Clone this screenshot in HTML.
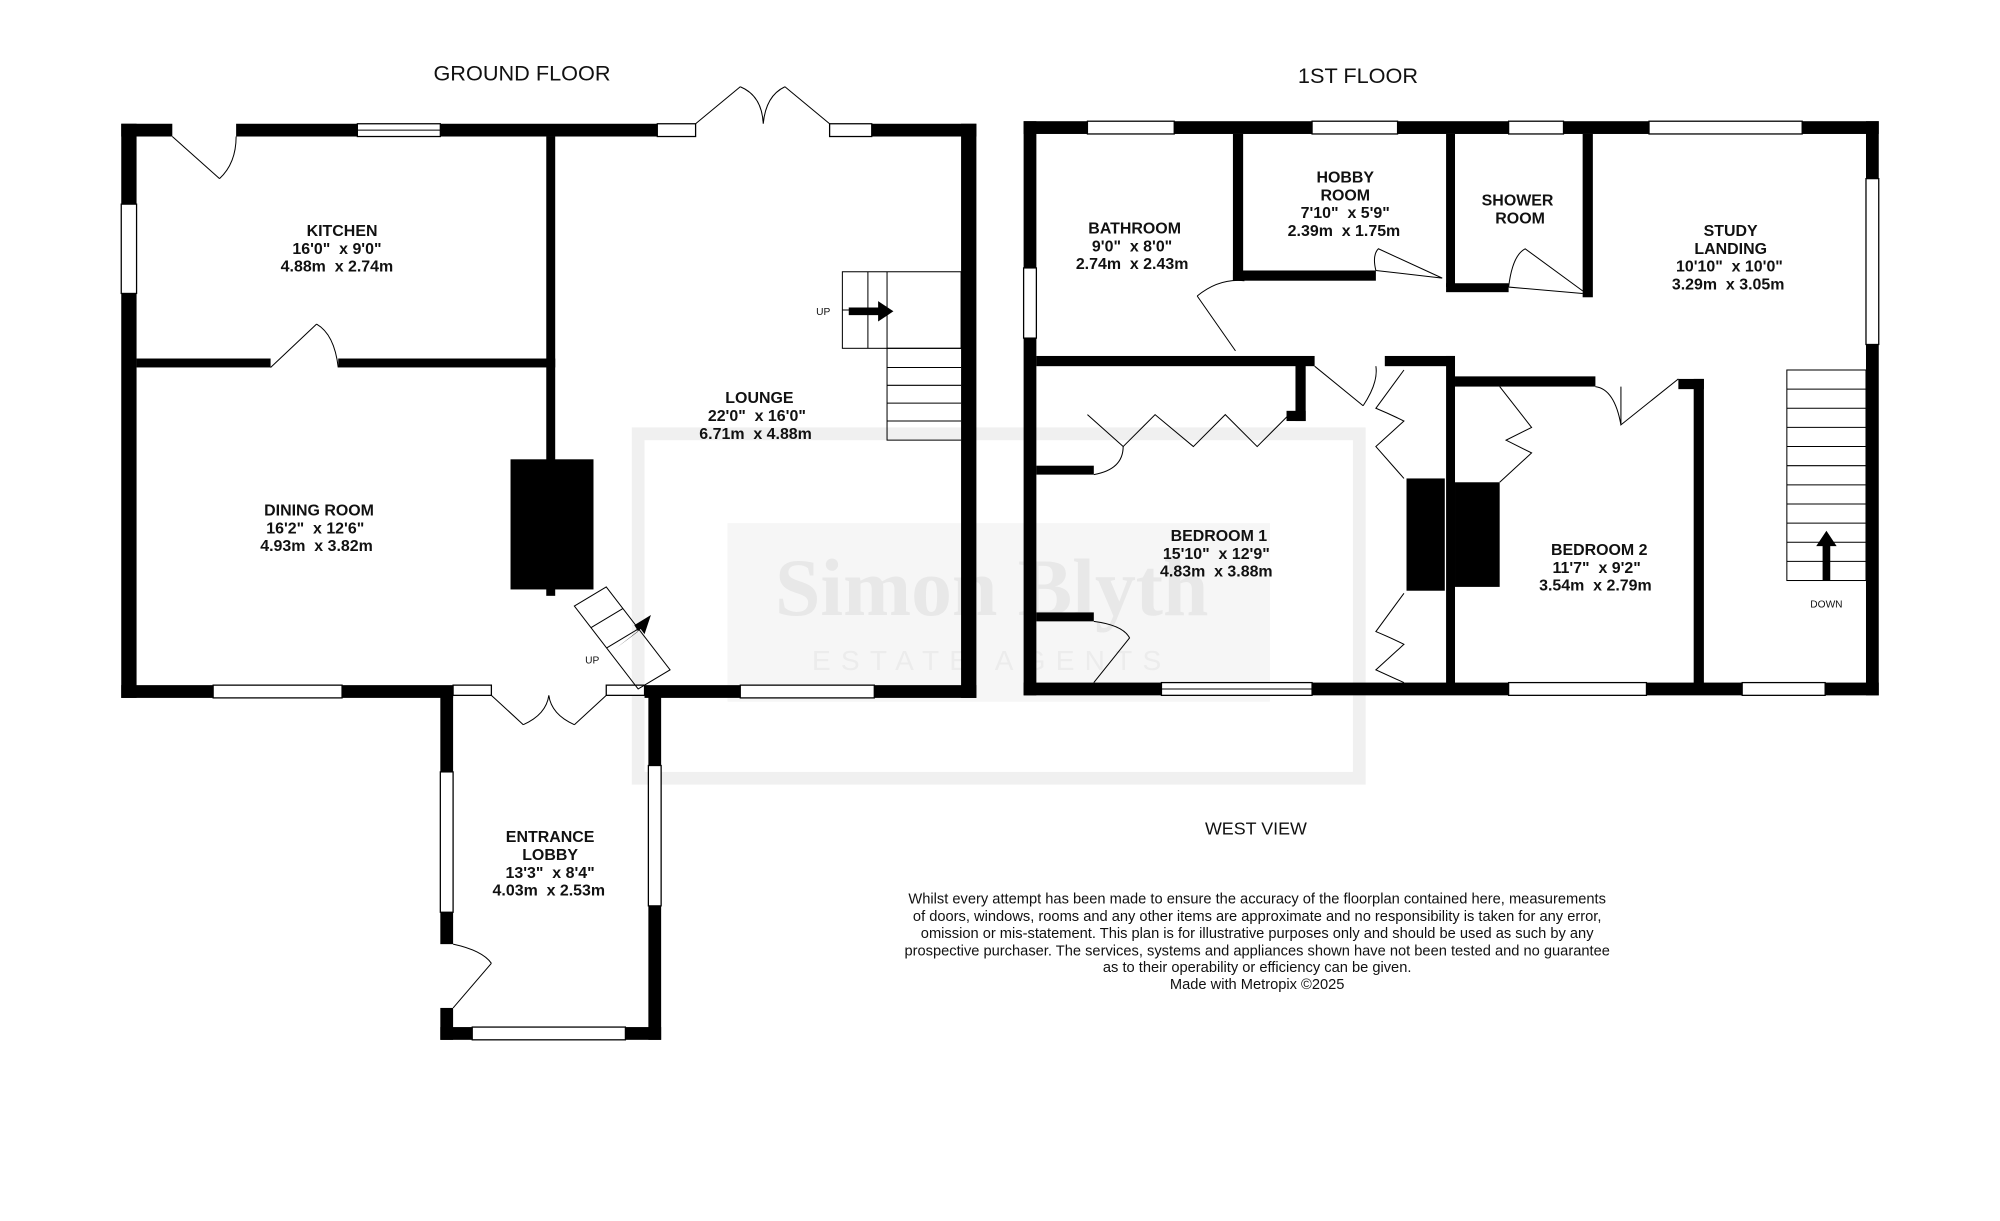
<!DOCTYPE html>
<html><head><meta charset="utf-8"><style>
html,body{margin:0;padding:0;background:#fff;width:2000px;height:1221px;overflow:hidden}
svg{display:block}
text{font-family:"Liberation Sans",Arial,sans-serif;fill:#111;white-space:pre}
.l{font-weight:bold;font-size:12.5px;text-anchor:middle}
.h{font-size:17px;text-anchor:middle}
.s{font-size:8px;text-anchor:middle}
.d{font-size:11.5px;text-anchor:middle}
</style></head><body>
<svg width="2000" height="1221" viewBox="0 0 1567 957" preserveAspectRatio="none" xmlns="http://www.w3.org/2000/svg">
<rect width="1567" height="957" fill="#fff"/>
<g fill="none" stroke="#f0f0f0" stroke-width="10">
<rect x="500" y="340" width="565" height="270"/>
</g>
<rect x="570" y="410" width="425" height="140" fill="#f6f6f6"/>
<text x="777" y="482" style="font-family:'Liberation Serif',serif;font-size:64px;font-weight:bold;fill:#e8e8e8;text-anchor:middle">Simon Blyth</text>
<text x="777" y="525" style="font-size:22px;fill:#ececec;text-anchor:middle;letter-spacing:8px">ESTATE AGENTS</text>

<text class="h" x="409" y="63">GROUND FLOOR</text>
<text class="h" x="1064" y="65">1ST FLOOR</text>

<g fill="#000">
<rect x="95" y="97" width="40" height="10"/><rect x="185" y="97" width="95" height="10"/>
<rect x="345" y="97" width="170" height="10"/><rect x="683" y="97" width="82" height="10"/>
<rect x="95" y="97" width="12" height="63"/><rect x="95" y="230" width="12" height="317"/>
<rect x="753" y="97" width="12" height="450"/>
<rect x="95" y="537" width="72" height="10"/><rect x="268" y="537" width="87" height="10"/>
<rect x="505" y="537" width="75" height="10"/><rect x="685" y="537" width="80" height="10"/>
<rect x="428" y="107" width="7" height="360"/>
<rect x="107" y="281" width="105" height="7"/><rect x="265" y="281" width="170" height="7"/>
<rect x="400" y="360" width="65" height="102"/>
<rect x="345" y="540" width="10" height="65"/><rect x="345" y="715" width="10" height="25"/><rect x="345" y="790" width="10" height="25"/>
<rect x="508" y="540" width="10" height="60"/><rect x="508" y="710" width="10" height="105"/>
<rect x="345" y="805" width="25" height="10"/><rect x="490" y="805" width="28" height="10"/>
<rect x="802" y="95" width="50" height="10"/><rect x="920" y="95" width="108" height="10"/>
<rect x="1095" y="95" width="87" height="10"/><rect x="1225" y="95" width="67" height="10"/><rect x="1412" y="95" width="60" height="10"/>
<rect x="802" y="95" width="10" height="115"/><rect x="802" y="265" width="10" height="280"/>
<rect x="1462" y="95" width="10" height="45"/><rect x="1462" y="270" width="10" height="275"/>
<rect x="802" y="535" width="108" height="10"/><rect x="1028" y="535" width="154" height="10"/>
<rect x="1290" y="535" width="75" height="10"/><rect x="1430" y="535" width="42" height="10"/>
<rect x="966" y="105" width="8" height="115"/><rect x="966" y="212" width="112" height="8"/>
<rect x="1133" y="105" width="7" height="120"/><rect x="1133" y="222" width="49" height="7"/>
<rect x="1240" y="105" width="8" height="128"/>
<rect x="812" y="279" width="218" height="8"/><rect x="1085" y="279" width="55" height="8"/>
<rect x="1133" y="279" width="7" height="258"/>
<rect x="1140" y="295" width="110" height="8"/><rect x="1315" y="297" width="20" height="8"/><rect x="1327" y="297" width="8" height="240"/>
<rect x="1015" y="285" width="8" height="45"/><rect x="1008" y="322" width="15" height="8"/>
<rect x="812" y="365" width="45" height="7"/><rect x="812" y="480" width="45" height="7"/>
<rect x="1102" y="375" width="30" height="88"/><rect x="1140" y="378" width="35" height="82"/>
</g>

<g fill="#fff" stroke="#000" stroke-width="1">
<rect x="280" y="97" width="65" height="10"/><rect x="515" y="97" width="30" height="10"/><rect x="650" y="97" width="33" height="10"/>
<rect x="95" y="160" width="12" height="70"/>
<rect x="167" y="537" width="101" height="10"/><rect x="580" y="537" width="105" height="10"/>
<rect x="355" y="537" width="30" height="8"/><rect x="475" y="537" width="30" height="8"/>
<rect x="345" y="605" width="10" height="110"/><rect x="508" y="600" width="10" height="110"/>
<rect x="370" y="805" width="120" height="10"/>
<rect x="852" y="95" width="68" height="10"/><rect x="1028" y="95" width="67" height="10"/><rect x="1182" y="95" width="43" height="10"/><rect x="1292" y="95" width="120" height="10"/>
<rect x="802" y="210" width="10" height="55"/><rect x="1462" y="140" width="10" height="130"/>
<rect x="910" y="535" width="118" height="10"/><rect x="1182" y="535" width="108" height="10"/><rect x="1365" y="535" width="65" height="10"/>
</g>
<g stroke="#000" stroke-width="0.8" fill="none">
<line x1="280" y1="102" x2="345" y2="102"/><line x1="910" y1="540" x2="1028" y2="540"/>
<path d="M135 107 L172 140 M185 107 Q185 128 172 140"/>
<path d="M212 288 L248 254 M265 288 Q262 262 248 254"/>
<path d="M545 97 L580 68 M650 97 L615 68 M580 68 Q597 75 598 97 M615 68 Q600 75 598 97"/>
<path d="M385 545 L410 568 M475 545 L450 568 M410 568 Q428 560 430 545 M450 568 Q432 560 430 545"/>
<path d="M355 790 L385 755 M355 740 Q378 745 385 755"/>
<path d="M968 275 L938 232 M938 232 Q955 218 975 220"/>
<path d="M1078 212 L1130 218 M1078 212 Q1075 200 1080 195 L1130 218" />
<path d="M1182 225 L1240 230 M1182 225 Q1185 200 1195 195 L1240 228"/>
<path d="M1030 287 L1068 318 M1068 318 Q1080 300 1078 287"/>
<path d="M1270 303 L1270 333 L1315 297 M1250 303 Q1265 305 1270 333"/>
<path d="M852 325 L880 350 M880 350 L905 325 L935 350 L960 325 L985 350 L1010 325"/>
<path d="M857 372 Q880 368 880 350"/>
<path d="M857 487 Q880 490 885 500 L857 535"/>
<path d="M1100 290 L1078 320 Q1090 325 1100 330 L1078 350 L1100 375"/>
<path d="M1100 465 L1078 495 Q1090 500 1100 505 L1078 525 L1100 535"/>
<path d="M1175 303 L1200 335 Q1190 340 1180 345 L1200 355 L1175 378"/>
<rect x="660" y="213" width="93" height="60"/><line x1="660" y1="243" x2="695" y2="243"/><line x1="680" y1="213" x2="680" y2="273"/>
<path d="M695 213 V345 H753 M695 273 H753 M695 288 H753 M695 302 H753 M695 316 H753 M695 330 H753"/>
<rect x="1400" y="290" width="62" height="165"/>
<path d="M1400 305H1462M1400 320H1462M1400 335H1462M1400 350H1462M1400 365H1462M1400 380H1462M1400 395H1462M1400 410H1462M1400 425H1462M1400 440H1462"/>
<path d="M450 475 L475 460 L525 525 L500 540 Z M463 492 L488 477 M475 508 L500 493"/>
</g>
<path d="M665 241 H688 V236 L700 244 L688 252 V247 H665Z" fill="#000"/>
<path d="M1428 455 V428 H1423 L1431 416 L1439 428 H1434 V455Z" fill="#000"/>
<path d="M480 510 L500 495 L497 490 L510 482 L505 497 L502 493 L484 507Z" fill="#000"/>

<text class="s" x="645" y="247">UP</text>
<text class="s" x="464" y="520">UP</text>
<text class="s" x="1431" y="476">DOWN</text>

<text class="l"><tspan x="268" y="185">KITCHEN</tspan><tspan x="264" y="199">16'0"  x 9'0"</tspan><tspan x="264" y="213">4.88m  x 2.74m</tspan></text>
<text class="l"><tspan x="595" y="316">LOUNGE</tspan><tspan x="593" y="330">22'0"  x 16'0"</tspan><tspan x="592" y="344">6.71m  x 4.88m</tspan></text>
<text class="l"><tspan x="250" y="404">DINING ROOM</tspan><tspan x="247" y="418">16'2"  x 12'6"</tspan><tspan x="248" y="432">4.93m  x 3.82m</tspan></text>
<text class="l"><tspan x="431" y="660">ENTRANCE</tspan><tspan x="431" y="674">LOBBY</tspan><tspan x="431" y="688">13'3"  x 8'4"</tspan><tspan x="430" y="702">4.03m  x 2.53m</tspan></text>
<text class="l"><tspan x="889" y="183">BATHROOM</tspan><tspan x="887" y="197">9'0"  x 8'0"</tspan><tspan x="887" y="211">2.74m  x 2.43m</tspan></text>
<text class="l"><tspan x="1054" y="143">HOBBY</tspan><tspan x="1054" y="157">ROOM</tspan><tspan x="1054" y="171">7'10"  x 5'9"</tspan><tspan x="1053" y="185">2.39m  x 1.75m</tspan></text>
<text class="l"><tspan x="1189" y="161">SHOWER</tspan><tspan x="1191" y="175">ROOM</tspan></text>
<text class="l"><tspan x="1356" y="185">STUDY</tspan><tspan x="1356" y="199">LANDING</tspan><tspan x="1355" y="213">10'10"  x 10'0"</tspan><tspan x="1354" y="227">3.29m  x 3.05m</tspan></text>
<text class="l"><tspan x="955" y="424">BEDROOM 1</tspan><tspan x="953" y="438">15'10"  x 12'9"</tspan><tspan x="953" y="452">4.83m  x 3.88m</tspan></text>
<text class="l"><tspan x="1253" y="435">BEDROOM 2</tspan><tspan x="1251" y="449">11'7"  x 9'2"</tspan><tspan x="1250" y="463">3.54m  x 2.79m</tspan></text>

<text x="984" y="654" style="font-size:14px;text-anchor:middle">WEST VIEW</text>
<text class="d"><tspan x="985" y="708">Whilst every attempt has been made to ensure the accuracy of the floorplan contained here, measurements</tspan><tspan x="985" y="722">of doors, windows, rooms and any other items are approximate and no responsibility is taken for any error,</tspan><tspan x="985" y="735">omission or mis-statement. This plan is for illustrative purposes only and should be used as such by any</tspan><tspan x="985" y="749">prospective purchaser. The services, systems and appliances shown have not been tested and no guarantee</tspan><tspan x="985" y="762">as to their operability or efficiency can be given.</tspan><tspan x="985" y="775">Made with Metropix ©2025</tspan></text>
</svg>
</body></html>
